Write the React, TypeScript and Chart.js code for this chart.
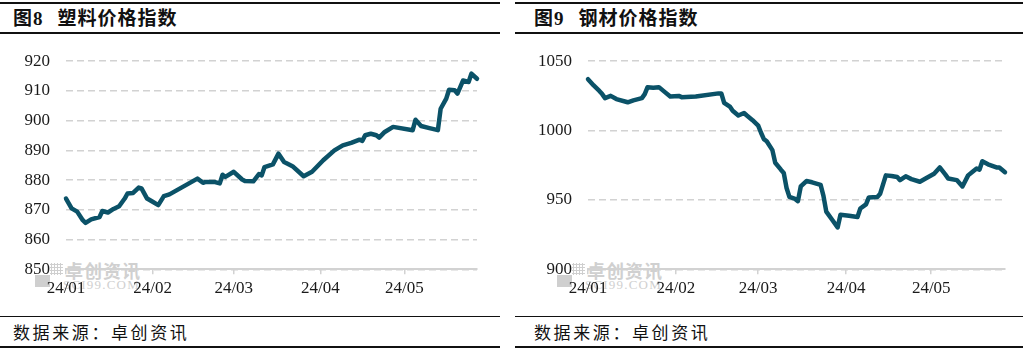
import React, { useEffect, useRef } from 'react';
import { Chart, registerables } from 'chart.js';

Chart.register(...registerables);

// Month-start positions (days since 2024-01-01) and their labels
const monthTicks = [0, 31, 60, 91, 121];
const monthLabels = ['24/01', '24/02', '24/03', '24/04', '24/05'];

// 图8 塑料价格指数
const plasticDays = [0, 2, 4, 6, 7, 9, 12, 13, 15, 17, 19, 21, 22, 24, 26, 27, 29, 31, 33, 35, 37, 47, 49, 50, 53, 55, 56, 57, 60, 63, 64, 67, 69, 70, 71, 74, 76, 78, 81, 85, 88, 92, 96, 99, 102, 105, 106, 107, 109, 111, 112, 114, 117, 124, 125, 127, 130, 133, 134, 136, 137, 139, 140, 142, 144, 145, 147];
const plasticValues = [873.8, 870.5, 869.4, 866.5, 865.6, 866.8, 867.6, 869.6, 869.1, 870.3, 871.2, 873.8, 875.5, 875.7, 877.5, 877.2, 873.8, 872.7, 871.6, 874.6, 875.2, 880.5, 879.1, 879.4, 879.4, 878.9, 881.8, 881.1, 882.8, 880.2, 879.7, 879.6, 882, 881.6, 884.4, 885.3, 888.9, 886.1, 884.7, 881.3, 882.8, 886.7, 890, 891.7, 892.5, 893.6, 893.2, 895.1, 895.6, 895.1, 894.3, 896.2, 897.9, 896.8, 900.3, 898.2, 897.5, 896.8, 904, 907.4, 910.4, 910.2, 909.1, 913.5, 913, 915.8, 914.1];
const plasticYTicks = { min: 850, max: 920, step: 10 };

// 图9 钢材价格指数
const steelDays = [0, 2, 4, 5, 6, 8, 10, 14, 16, 19, 20, 21, 23, 25, 27, 29, 32, 33, 38, 46, 47, 48, 50, 51, 53, 55, 56, 58, 60, 61, 62, 63, 65, 66, 68, 69, 70, 71, 73, 74, 75, 77, 79, 82, 83, 84, 86, 88, 89, 92, 95, 96, 98, 99, 102, 103, 105, 107, 109, 110, 112, 114, 117, 119, 122, 124, 126, 127, 130, 132, 134, 136, 137, 138, 139, 141, 144, 145, 147];
const steelValues = [1037, 1032.5, 1028.6, 1026.3, 1023.4, 1025, 1022.7, 1020.4, 1021.8, 1023.4, 1026.3, 1031.3, 1030.9, 1031.3, 1027.9, 1024.5, 1025, 1024.1, 1024.5, 1026.8, 1026.8, 1020, 1017.3, 1014.3, 1010.9, 1012.7, 1010.9, 1007.5, 1003.6, 998.4, 993.8, 992.3, 985.9, 976.8, 971.8, 969.5, 958.6, 952.2, 950.7, 949.1, 959.7, 963.6, 962.7, 960.9, 952.9, 941.6, 935.9, 930.2, 939.3, 938.6, 937.7, 943.8, 946.8, 951.8, 952.2, 954.5, 967.7, 967.2, 966.5, 964.3, 967, 965, 963.1, 965.4, 968.9, 973.4, 968.2, 965.4, 964.3, 959.7, 967.7, 971.1, 972.7, 971.8, 977.9, 975.7, 973.4, 973.4, 970];
const steelYTicks = { min: 900, max: 1050, step: 50 };

const X_MAX = 147;
const LINE_COLOR = '#0B5268';
const GRID_COLOR = '#d2d2d2';
const TICK_FONT = { family: '"Liberation Serif", "Times New Roman", serif', size: 17 };

type ChartProps = {
  days: number[];
  values: number[];
  yTicks: { min: number; max: number; step: number };
  width: number;
  height: number;
  yAxisWidth: number;
  padTop: number;
  padRight: number;
  xAxisHeight: number;
};

function LineChart(p: ChartProps) {
  const ref = useRef<HTMLCanvasElement | null>(null);
  useEffect(() => {
    if (!ref.current) return;
    const data = p.days.map((d, i) => ({ x: d, y: p.values[i] }));
    const chart = new Chart(ref.current, {
      type: 'line',
      data: {
        datasets: [
          {
            data,
            borderColor: LINE_COLOR,
            borderWidth: 4.5,
            pointRadius: 0,
            tension: 0,
            borderJoinStyle: 'round',
            borderCapStyle: 'round',
            clip: 8,
          } as any,
        ],
      },
      options: {
        animation: false,
        responsive: false,
        devicePixelRatio: 1,
        layout: { padding: { left: 0, top: p.padTop, right: p.padRight, bottom: 0 } },
        plugins: { legend: { display: false }, tooltip: { enabled: false } },
        scales: {
          x: {
            type: 'linear',
            min: 0,
            max: X_MAX,
            afterBuildTicks: (axis: any) => {
              axis.ticks = monthTicks.map((v) => ({ value: v }));
            },
            afterFit: (axis: any) => {
              axis.height = p.xAxisHeight;
            },
            ticks: {
              autoSkip: false,
              maxRotation: 0,
              padding: 4,
              color: '#1a1a1a',
              font: TICK_FONT,
              callback: (v: any) => {
                const i = monthTicks.indexOf(Number(v));
                return i >= 0 ? monthLabels[i] : '';
              },
            },
            grid: {
              drawOnChartArea: false,
              drawTicks: true,
              tickLength: 5,
              color: GRID_COLOR,
              lineWidth: 1.5,
            },
            border: { display: true, color: GRID_COLOR, width: 2 },
          },
          y: {
            min: p.yTicks.min,
            max: p.yTicks.max,
            afterFit: (axis: any) => {
              axis.width = p.yAxisWidth;
            },
            ticks: {
              stepSize: p.yTicks.step,
              padding: 16,
              color: '#1a1a1a',
              font: TICK_FONT,
              callback: (v: any) => String(v),
            },
            grid: { color: GRID_COLOR, lineWidth: 1.5, drawTicks: false },
            border: { display: false, dash: [7, 4] },
          },
        },
      },
    });
    return () => chart.destroy();
  }, []);
  return <canvas ref={ref} width={p.width} height={p.height} style={{ display: 'block' }} />;
}

const cjk = '"Liberation Serif", "Noto Sans CJK SC", serif';

function Watermark({ left }: { left: number }) {
  return (
    <div style={{ position: 'absolute', left, top: 260, width: 120, height: 32 }}>
      <div style={{ position: 'absolute', left: 0, top: 15, width: 15, height: 12, background: '#cfcfcf' }} />
      <div
        style={{
          position: 'absolute',
          left: 15,
          top: 3,
          width: 13,
          height: 12,
          backgroundImage: 'radial-gradient(#cfcfcf 1px, transparent 1.2px)',
          backgroundSize: '3px 3px',
        }}
      />
      <div
        style={{
          position: 'absolute',
          left: 30,
          top: 0,
          fontFamily: '"Noto Sans CJK SC", sans-serif',
          fontSize: 18,
          lineHeight: '20px',
          fontWeight: 700,
          color: '#d0d0d0',
          letterSpacing: 1,
          whiteSpace: 'nowrap',
        }}
      >
        卓创资讯
      </div>
      <div
        style={{
          position: 'absolute',
          left: 28,
          top: 18,
          fontFamily: '"Liberation Serif", serif',
          fontSize: 13,
          lineHeight: '14px',
          color: '#d0d0d0',
          letterSpacing: 1.2,
          whiteSpace: 'nowrap',
        }}
      >
        SCI99.COM
      </div>
    </div>
  );
}

function Panel(props: {
  left: number;
  lineLeft: number;
  lineRight: number;
  textLeft: number;
  titleNum: string;
  title: string;
  chart: React.ReactNode;
  wmLeft: number;
}) {
  const lineW = props.lineRight - props.lineLeft;
  const hl = (top: number, h: number) => (
    <div style={{ position: 'absolute', left: props.lineLeft, top, width: lineW, height: h, background: '#111' }} />
  );
  return (
    <>
      {hl(2, 1.5)}
      {hl(32, 1.8)}
      {hl(315.5, 1.5)}
      {hl(346, 1.5)}
      <div
        style={{
          position: 'absolute',
          left: props.textLeft,
          top: 8,
          fontFamily: cjk,
          fontSize: 19,
          lineHeight: '22px',
          fontWeight: 700,
          color: '#111',
          whiteSpace: 'nowrap',
        }}
      >
        <span style={{ letterSpacing: 1 }}>{props.titleNum}</span>
        <span style={{ marginLeft: 14, letterSpacing: 1 }}>{props.title}</span>
      </div>
      <Watermark left={props.wmLeft} />
      {props.chart}
      <div
        style={{
          position: 'absolute',
          left: props.textLeft,
          top: 321,
          fontFamily: '"Noto Sans CJK SC", sans-serif',
          fontSize: 17,
          lineHeight: '22px',
          color: '#111',
          letterSpacing: 2.6,
          whiteSpace: 'nowrap',
        }}
      >
        数据来源：卓创资讯
      </div>
    </>
  );
}

export default function App() {
  return (
    <div
      style={{
        position: 'absolute',
        left: 0,
        top: 0,
        width: 1023,
        height: 352,
        background: '#fff',
        overflow: 'hidden',
      }}
    >
      <Panel
        left={0}
        lineLeft={0}
        lineRight={500}
        textLeft={13}
        titleNum="图8"
        title="塑料价格指数"
        wmLeft={35}
        chart={
          <div style={{ position: 'absolute', left: 0, top: 35 }}>
            <LineChart
              days={plasticDays}
              values={plasticValues}
              yTicks={plasticYTicks}
              width={505}
              height={278}
              yAxisWidth={66}
              padTop={25.7}
              padRight={28}
              xAxisHeight={43.7}
            />
          </div>
        }
      />
      <Panel
        left={512}
        lineLeft={515}
        lineRight={1023}
        textLeft={534}
        titleNum="图9"
        title="钢材价格指数"
        wmLeft={557}
        chart={
          <div style={{ position: 'absolute', left: 512, top: 35 }}>
            <LineChart
              days={steelDays}
              values={steelValues}
              yTicks={steelYTicks}
              width={511}
              height={278}
              yAxisWidth={76}
              padTop={14.3}
              padRight={18}
              xAxisHeight={43.7}
            />
          </div>
        }
      />
    </div>
  );
}
